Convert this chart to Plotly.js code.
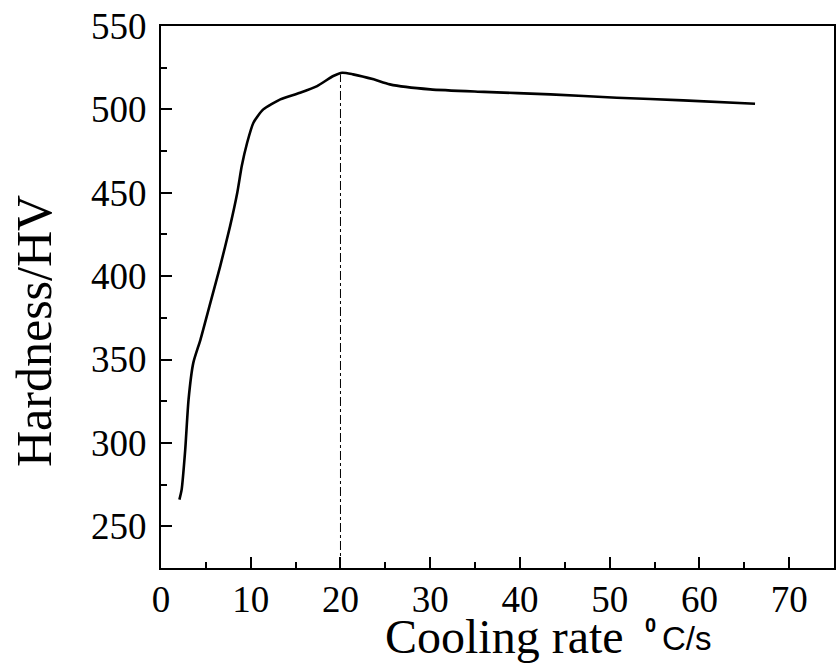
<!DOCTYPE html>
<html>
<head>
<meta charset="utf-8">
<script src="https://cdn.plot.ly/plotly-3.0.1.min.js"></script>
<style>html,body{margin:0;padding:0;background:#fff;}#chart{width:836px;height:671px;}</style>
</head>
<body>
<div id="chart"></div>
<script>
// Data
const coolingRate = [2.05, 2.3, 2.7, 3.07, 3.6, 4.4, 5.5, 6.6, 7.7, 8.5, 9.0, 9.6, 10.3, 11.4, 13.3, 15.5, 17.4, 19.2, 20.2, 21.4, 23.7, 25.5, 30, 36, 43.4, 50.8, 58.2, 66.2];
const hardness    = [266, 272, 296, 326, 348, 362, 384, 406, 430, 450, 466, 480, 492, 500, 506, 510, 514, 520, 522, 521, 518, 515, 512, 510.5, 509, 507, 505.4, 503.4];
const markerX = [20, 20];
const markerY = [225, 521];
const xTickVals = [0, 10, 20, 30, 40, 50, 60, 70];
const yTickVals = [250, 300, 350, 400, 450, 500, 550];

const L = 161, R = 2, T = 26, B = 103;
const W = 836, H = 671;
const pw = W - L - R, ph = H - T - B;
const px = v => (v - L) / pw;
const py = v => (H - B - v) / ph;

const serif = "Liberation Serif, Times New Roman, serif";
const sans = "Liberation Sans, Arial, sans-serif";

const traces = [
  {x: coolingRate, y: hardness, mode: 'lines', type: 'scatter',
   line: {color: '#000', width: 2.6, shape: 'spline', smoothing: 0.6}, hoverinfo: 'skip'},
  {x: markerX, y: markerY, mode: 'lines', type: 'scatter',
   line: {color: '#000', width: 1, dash: 'dashdot'}, hoverinfo: 'skip'}
];

const axisCommon = {
  showgrid: false, zeroline: false, showline: true, mirror: true,
  linecolor: '#000', linewidth: 2, ticks: 'inside', ticklen: 11, tickwidth: 2, tickcolor: '#000',
  tickfont: {family: serif, size: 37, color: '#000'}
};

const layout = {
  width: W, height: H,
  margin: {l: L, r: R, t: T, b: B, pad: 0},
  paper_bgcolor: '#fff', plot_bgcolor: '#fff',
  showlegend: false,
  xaxis: Object.assign({}, axisCommon, {
    range: [0, 75], tickvals: xTickVals, ticktext: xTickVals.map(String),
    ticklabelstandoff: -2,
    minor: {dtick: 5, tick0: 0, ticks: 'inside', ticklen: 6, tickwidth: 2, tickcolor: '#000'}
  }),
  yaxis: Object.assign({}, axisCommon, {
    range: [225, 550], tickvals: yTickVals, ticktext: yTickVals.map(String),
    ticklabelstandoff: 5,
    minor: {dtick: 25, tick0: 0, ticks: 'inside', ticklen: 6, tickwidth: 2, tickcolor: '#000'}
  }),
  annotations: [
    {text: 'Hardness/HV', xref: 'paper', yref: 'paper', x: px(34), y: py(331), textangle: -90,
     xanchor: 'center', yanchor: 'middle', showarrow: false, font: {family: serif, size: 50, color: '#000'}},
    {text: 'Cooling rate', xref: 'paper', yref: 'paper', x: px(383), y: py(636),
     xanchor: 'left', yanchor: 'middle', showarrow: false, font: {family: serif, size: 48, color: '#000'}},
    {text: '<b>0</b>', xref: 'paper', yref: 'paper', x: px(643), y: py(625),
     xanchor: 'left', yanchor: 'middle', showarrow: false, font: {family: sans, size: 20, color: '#000'}},
    {text: 'C/s', xref: 'paper', yref: 'paper', x: px(660), y: py(638),
     xanchor: 'left', yanchor: 'middle', showarrow: false, font: {family: sans, size: 33, color: '#000'}}
  ]
};

Plotly.newPlot('chart', traces, layout, {staticPlot: true, displayModeBar: false});
</script>
</body>
</html>
